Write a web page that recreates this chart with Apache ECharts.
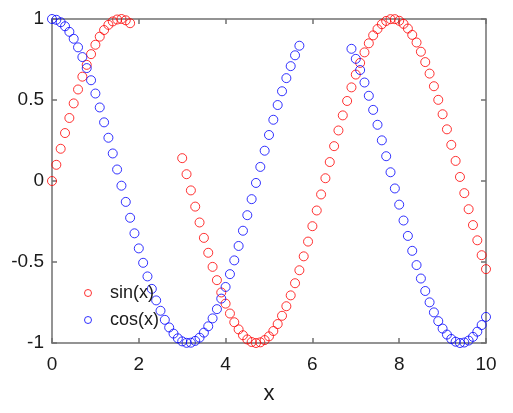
<!DOCTYPE html>
<html>
<head>
<meta charset="utf-8">
<script src="https://cdn.jsdelivr.net/npm/echarts@6/dist/echarts.min.js"></script>
<style>
html,body{margin:0;padding:0;background:#fff;}
#chart{width:513px;height:413px;}
</style>
</head>
<body>
<div id="chart"></div>
<script>
// sin(x) samples (gap between 1.8 and 3.0)
var sinX = [0,0.1,0.2,0.3,0.4,0.5,0.6,0.7,0.8,0.9,1.0,1.1,1.2,1.3,1.4,1.5,1.6,1.7,1.8,
  3.0,3.1,3.2,3.3,3.4,3.5,3.6,3.7,3.8,3.9,4.0,4.1,4.2,4.3,4.4,4.5,4.6,4.7,4.8,4.9,
  5.0,5.1,5.2,5.3,5.4,5.5,5.6,5.7,5.8,5.9,6.0,6.1,6.2,6.3,6.4,6.5,6.6,6.7,6.8,6.9,
  7.0,7.1,7.2,7.3,7.4,7.5,7.6,7.7,7.8,7.9,8.0,8.1,8.2,8.3,8.4,8.5,8.6,8.7,8.8,8.9,
  9.0,9.1,9.2,9.3,9.4,9.5,9.6,9.7,9.8,9.9,10.0];
var sinY = [0.000,0.100,0.199,0.296,0.389,0.479,0.565,0.644,0.717,0.783,0.841,0.891,0.932,0.964,0.985,0.997,1.000,0.992,0.974,
  0.141,0.042,-0.058,-0.158,-0.256,-0.351,-0.443,-0.530,-0.612,-0.688,-0.757,-0.818,-0.872,-0.916,-0.952,-0.978,-0.994,-1.000,-0.996,-0.982,
  -0.959,-0.926,-0.883,-0.832,-0.773,-0.706,-0.631,-0.551,-0.465,-0.374,-0.279,-0.182,-0.083,0.017,0.117,0.215,0.312,0.405,0.494,0.578,
  0.657,0.729,0.794,0.850,0.899,0.938,0.968,0.988,0.999,0.999,0.989,0.970,0.941,0.902,0.855,0.798,0.734,0.663,0.585,0.501,
  0.412,0.319,0.223,0.124,0.025,-0.075,-0.174,-0.272,-0.366,-0.458,-0.544];

// cos(x) samples (gap between 5.7 and 6.9)
var cosX = [0,0.1,0.2,0.3,0.4,0.5,0.6,0.7,0.8,0.9,1.0,1.1,1.2,1.3,1.4,1.5,1.6,1.7,1.8,1.9,
  2.0,2.1,2.2,2.3,2.4,2.5,2.6,2.7,2.8,2.9,3.0,3.1,3.2,3.3,3.4,3.5,3.6,3.7,3.8,3.9,
  4.0,4.1,4.2,4.3,4.4,4.5,4.6,4.7,4.8,4.9,5.0,5.1,5.2,5.3,5.4,5.5,5.6,5.7,
  6.9,7.0,7.1,7.2,7.3,7.4,7.5,7.6,7.7,7.8,7.9,8.0,8.1,8.2,8.3,8.4,8.5,8.6,8.7,8.8,8.9,
  9.0,9.1,9.2,9.3,9.4,9.5,9.6,9.7,9.8,9.9,10.0];
var cosY = [1.000,0.995,0.980,0.955,0.921,0.878,0.825,0.765,0.697,0.622,0.540,0.454,0.362,0.267,0.170,0.071,-0.029,-0.129,-0.227,-0.323,
  -0.416,-0.505,-0.589,-0.666,-0.737,-0.801,-0.857,-0.904,-0.942,-0.971,-0.990,-0.999,-0.998,-0.987,-0.967,-0.936,-0.897,-0.848,-0.791,-0.726,
  -0.654,-0.575,-0.490,-0.401,-0.307,-0.211,-0.112,-0.012,0.087,0.187,0.284,0.378,0.469,0.554,0.635,0.709,0.776,0.835,
  0.816,0.754,0.685,0.608,0.526,0.439,0.347,0.251,0.153,0.054,-0.046,-0.146,-0.244,-0.339,-0.431,-0.519,-0.602,-0.679,-0.749,-0.811,-0.865,
  -0.911,-0.948,-0.975,-0.992,-1.000,-0.997,-0.985,-0.962,-0.930,-0.889,-0.839];

var seriesNames = ['sin(x)', 'cos(x)'];
var xTicks = { min: 0, max: 10, interval: 2 };
var yTicks = { min: -1, max: 1, interval: 0.5 };

function pairs(xs, ys) { return xs.map(function (x, i) { return [x, ys[i]]; }); }

var axisColor = '#707070';
var textColor = '#1a1a1a';
var font = 'Liberation Sans, Arial, sans-serif';

var chart = echarts.init(document.getElementById('chart'), null, { renderer: 'canvas' });
var lineStyle = { color: axisColor, width: 1.5 };
chart.setOption({
  backgroundColor: '#ffffff',
  animation: false,
  grid: { left: 52, right: 27, top: 19, bottom: 70, containLabel: false },
  legend: {
    orient: 'vertical',
    left: 79, top: 279,
    itemWidth: 34, itemHeight: 7,
    itemGap: 9,
    icon: 'circle',
    itemStyle: { borderWidth: 1 },
    textStyle: { fontSize: 18, color: textColor, fontFamily: font, lineHeight: 18 },
    data: seriesNames
  },
  xAxis: [{
    type: 'value', min: xTicks.min, max: xTicks.max, interval: xTicks.interval,
    position: 'bottom',
    name: 'x', nameLocation: 'middle', nameGap: 40,
    nameTextStyle: { fontSize: 22, color: textColor, fontFamily: font },
    axisLine: { show: true, onZero: false, lineStyle: lineStyle },
    axisTick: { show: true, inside: true, length: 5, lineStyle: lineStyle },
    axisLabel: { fontSize: 19, color: textColor, fontFamily: font, margin: 12 },
    splitLine: { show: false }
  }, {
    type: 'value', min: xTicks.min, max: xTicks.max, interval: xTicks.interval,
    position: 'top',
    axisLine: { show: true, onZero: false, lineStyle: lineStyle },
    axisTick: { show: true, inside: true, length: 5, lineStyle: lineStyle },
    axisLabel: { show: false },
    splitLine: { show: false }
  }],
  yAxis: [{
    type: 'value', min: yTicks.min, max: yTicks.max, interval: yTicks.interval,
    position: 'left',
    axisLine: { show: true, onZero: false, lineStyle: lineStyle },
    axisTick: { show: true, inside: true, length: 5, lineStyle: lineStyle },
    axisLabel: { fontSize: 19, color: textColor, fontFamily: font, margin: 8 },
    splitLine: { show: false }
  }, {
    type: 'value', min: yTicks.min, max: yTicks.max, interval: yTicks.interval,
    position: 'right',
    axisLine: { show: true, onZero: false, lineStyle: lineStyle },
    axisTick: { show: true, inside: true, length: 5, lineStyle: lineStyle },
    axisLabel: { show: false },
    splitLine: { show: false }
  }],
  series: [{
    name: seriesNames[0], type: 'scatter', clip: false,
    symbol: 'circle', symbolSize: 9,
    itemStyle: { color: 'rgba(255,255,255,0)', borderColor: '#ff0000', borderWidth: 1 },
    data: pairs(sinX, sinY)
  }, {
    name: seriesNames[1], type: 'scatter', clip: false,
    symbol: 'circle', symbolSize: 9,
    itemStyle: { color: 'rgba(255,255,255,0)', borderColor: '#0000ff', borderWidth: 1 },
    data: pairs(cosX, cosY)
  }]
});
</script>
</body>
</html>
